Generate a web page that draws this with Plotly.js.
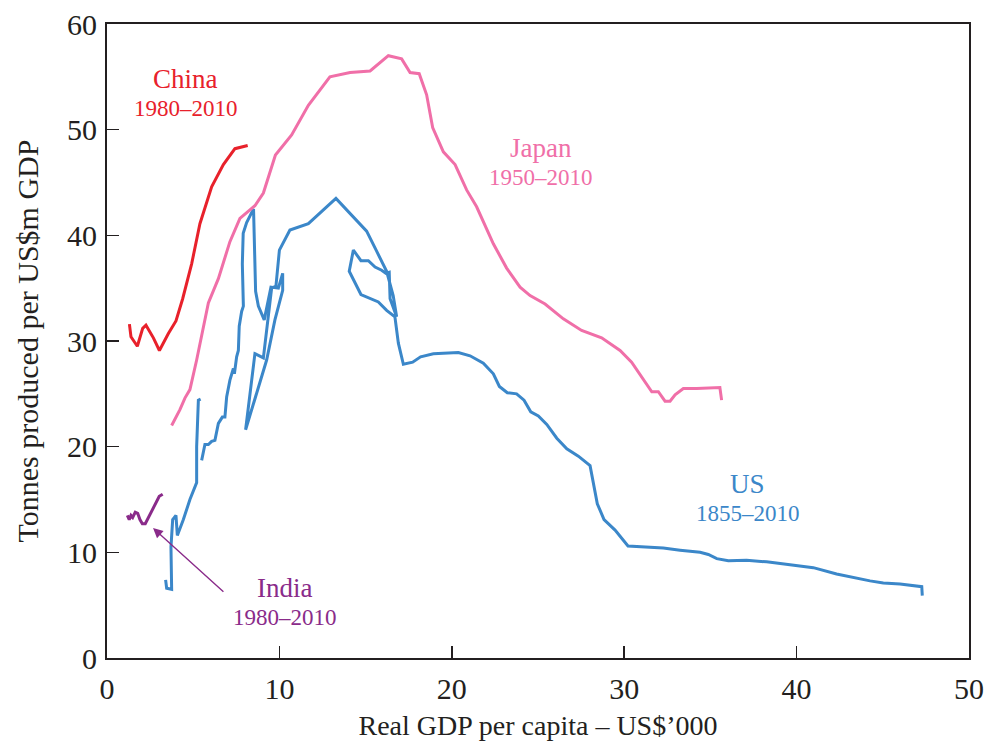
<!DOCTYPE html>
<html>
<head>
<meta charset="utf-8">
<script src="https://cdn.plot.ly/plotly-3.0.1.min.js"></script>
<style>html,body{margin:0;padding:0;background:#fff;}#chart{width:987px;height:742px;}</style>
</head>
<body>
<div id="chart"></div>
<script>
// China 1980–2010
const chinaX = [1.30,1.39,1.76,2.07,2.26,2.69,3.04,3.56,4.00,4.39,4.91,5.39,6.07,6.75,7.42,8.16];
const chinaY = [31.6,30.4,29.5,31.2,31.5,30.3,29.1,30.7,31.9,34.0,37.3,41.1,44.6,46.7,48.2,48.5];

// Japan 1950–2010
const japanX = [3.75,4.23,4.52,4.81,5.20,5.88,6.46,7.13,7.71,8.58,9.07,9.77,10.71,11.68,12.93,14.10,15.26,16.32,17.09,17.58,18.11,18.54,18.89,19.51,20.19,20.86,21.44,22.41,23.18,23.96,24.54,25.41,26.47,27.53,28.69,29.76,30.43,31.01,31.60,31.98,32.37,32.66,32.95,33.43,34.20,35.55,35.65];
const japanY = [22.0,23.5,24.6,25.4,28.2,33.6,35.9,39.4,41.6,42.8,44.0,47.6,49.5,52.3,55.0,55.4,55.55,57.0,56.7,55.4,55.3,53.3,50.2,47.9,46.7,44.3,42.7,39.2,36.9,35.1,34.3,33.5,32.1,31.0,30.3,29.1,28.0,26.6,25.2,25.2,24.3,24.3,24.9,25.5,25.5,25.6,24.4];

// US 1855–2010
const usX = [3.40,3.46,3.75,3.71,3.81,4.00,4.08,4.43,4.81,5.10,5.20,5.20,5.30,5.43,null,
  5.49,5.68,5.88,6.07,6.26,6.46,6.69,6.84,6.94,7.13,7.33,7.39,7.52,7.62,7.67,7.81,7.91,7.85,7.90,8.10,8.50,8.53,8.54,8.62,8.78,9.12,9.51,9.94,10.19,10.19,9.74,9.26,8.04,8.58,9.07,9.55,9.80,10.00,10.61,11.68,13.28,15.06,15.64,16.22,16.60,16.80,16.42,16.37,16.18,15.93,15.55,15.16,14.73,14.29,14.05,14.73,15.74,16.22,16.70,16.90,17.19,17.73,18.19,18.93,20.38,21.06,21.83,22.41,22.76,23.22,23.76,24.19,24.58,25.02,25.51,26.09,26.67,27.34,28.02,28.21,28.44,28.83,29.47,30.22,32.27,33.24,34.40,34.88,35.37,36.04,37.10,38.26,39.62,40.97,42.32,43.68,44.26,45.03,46.00,47.26,47.29];
const usY = [7.4,6.6,6.5,10.5,13.1,13.5,11.6,13.1,15.0,16.1,16.6,20.0,24.4,24.5,null,
  18.7,20.2,20.2,20.5,20.6,22.2,22.8,22.8,24.7,26.3,27.4,26.9,28.5,29.1,31.4,32.8,33.3,37.3,40.2,41.2,42.5,40.5,37.3,34.7,33.3,32.0,35.1,35.0,36.4,34.8,32.0,28.2,21.6,28.8,28.4,35.0,35.2,38.6,40.5,41.1,43.5,40.4,38.5,36.6,34.3,32.3,34.0,36.5,36.4,36.7,37.0,37.6,37.6,38.6,36.6,34.4,33.7,32.9,32.3,29.8,27.8,28.0,28.5,28.8,28.9,28.6,27.9,26.9,25.7,25.1,25.0,24.4,23.3,22.9,22.1,20.8,19.8,19.1,18.2,16.5,14.6,13.1,12.1,10.6,10.4,10.2,10.0,9.8,9.4,9.2,9.25,9.1,8.85,8.55,7.95,7.45,7.3,7.1,7.0,6.75,5.9];

// India 1980–2010
const indiaX = [1.18,1.29,1.39,1.49,1.64,1.78,1.91,2.05,2.22,2.49,2.78,3.03,3.23];
const indiaY = [13.5,13.1,13.5,13.3,13.8,13.7,13.1,12.7,12.7,13.6,14.6,15.3,15.5];

const xTicks = [0,10,20,30,40,50];
const yTicks = [0,10,20,30,40,50,60];

const C = {china:'#e8212b', japan:'#f06fa8', us:'#3b87c9', india:'#8a2b8a', axis:'#231f20'};
const serif = 'Liberation Serif, Times New Roman, serif';

function line(x,y,color){
  return {x:x,y:y,type:'scatter',mode:'lines',line:{color:color,width:3},connectgaps:false,hoverinfo:'skip',showlegend:false};
}

const data = [line(usX,usY,C.us), line(japanX,japanY,C.japan), line(chinaX,chinaY,C.china), line(indiaX,indiaY,C.india)];

function lab(x,y,t,color,size,anchor){
  return {x:x,y:y,xref:'x',yref:'y',text:t,showarrow:false,font:{family:serif,size:size,color:color},
    xanchor:'center',yanchor:anchor,borderpad:0};
}

const layout = {
  width:987,height:742,
  margin:{l:107,r:18,t:24,b:84},
  paper_bgcolor:'#fff',plot_bgcolor:'#fff',
  font:{family:serif,color:C.axis},
  xaxis:{range:[0,50],tickvals:xTicks,ticktext:xTicks.map(String),showgrid:false,zeroline:false,
    showline:true,mirror:true,linecolor:C.axis,linewidth:2,ticks:'inside',ticklen:12,tickwidth:1.5,tickcolor:C.axis,
    tickfont:{family:serif,size:30,color:C.axis},ticklabelstandoff:3,
    title:{text:'Real GDP per capita – US$’000',font:{family:serif,size:28,color:C.axis},standoff:11}},
  yaxis:{range:[0,60],tickvals:yTicks,ticktext:yTicks.map(String),showgrid:false,zeroline:false,
    showline:true,mirror:true,linecolor:C.axis,linewidth:2,ticks:'inside',ticklen:12,tickwidth:1.5,tickcolor:C.axis,
    tickfont:{family:serif,size:30,color:C.axis},ticklabelstandoff:2,
    title:{text:'Tonnes produced per US$m GDP',font:{family:serif,size:30,color:C.axis},standoff:20}},
  annotations:[
    lab(4.58,53.3,'China',C.china,27,'bottom'), lab(4.58,53.3,'1980–2010',C.china,23,'top'),
    lab(25.17,46.75,'Japan',C.japan,27,'bottom'), lab(25.17,46.75,'1950–2010',C.japan,23,'top'),
    lab(37.18,15.0,'US',C.us,27,'bottom'), lab(37.18,15.0,'1855–2010',C.us,23,'top'),
    lab(10.32,5.1,'India',C.india,27,'bottom'), lab(10.32,5.1,'1980–2010',C.india,23,'top'),
    {x:2.67,y:12.3,xref:'x',yref:'y',ax:6.84,ay:6.15,axref:'x',ayref:'y',text:'',showarrow:true,
     arrowhead:2,arrowsize:1.4,arrowwidth:1.4,arrowcolor:C.india}
  ]
};

Plotly.newPlot('chart',data,layout,{displayModeBar:false,staticPlot:true});
</script>
</body>
</html>
